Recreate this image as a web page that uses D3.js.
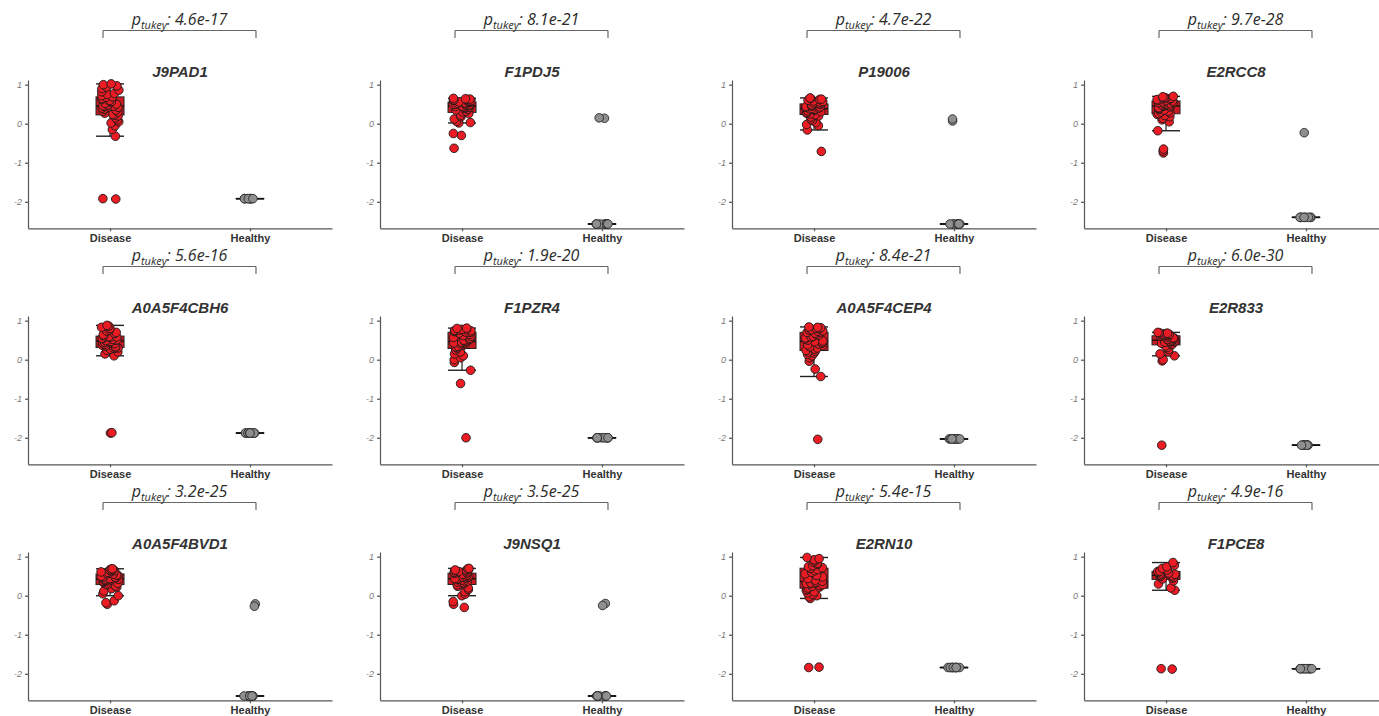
<!doctype html>
<html>
  <head>
    <script src="https://cdnjs.cloudflare.com/ajax/libs/d3/7.8.5/d3.min.js"></script>
    <style>
      body { margin: 0; background: #fff; }
      text.title { font: italic bold 15px "Liberation Sans", Arial, sans-serif; fill: #333; }
      text.pval { font: italic 16px "Open Sans", sans-serif; fill: #2b2b2b; }
      .yaxis text { font: italic 9px "Liberation Sans", Arial, sans-serif; fill: #777; }
      .xaxis text { font: bold 11px "Liberation Sans", Arial, sans-serif; fill: #333; }
      .domain, .tick line { stroke: #555; stroke-width: 1.2; }
      line.bracket { stroke: #666; stroke-width: 1.2; }
    </style>
  </head>
  <body>
    <svg id="chart" width="1379" height="716"></svg>
    <script>
      // one panel per protein
      const proteins = ["J9PAD1", "F1PDJ5", "P19006", "E2RCC8",
                        "A0A5F4CBH6", "F1PZR4", "A0A5F4CEP4", "E2R833",
                        "A0A5F4BVD1", "J9NSQ1", "E2RN10", "F1PCE8"];
      const pValues = ["4.6e-17", "8.1e-21", "4.7e-22", "9.7e-28",
                       "5.6e-16", "1.9e-20", "8.4e-21", "6.0e-30",
                       "3.2e-25", "3.5e-25", "5.4e-15", "4.9e-16"];
      const groups = ["Disease", "Healthy"];
      const yTicks = [1, 0, -1, -2];

      const diseaseValues = [
        [-1.93, -1.92, -0.32, -0.15, -0.05, 0.02, 0.05, 0.1, 0.15, 0.2, 0.22, 0.24, 0.27, 0.3, 0.32, 0.35, 0.37, 0.4, 0.42, 0.44,
         0.45, 0.46, 0.48, 0.5, 0.52, 0.55, 0.57, 0.6, 0.62, 0.65, 0.68, 0.69, 0.72, 0.75, 0.78, 0.82, 0.86, 0.9, 0.94, 0.97, 1.0, 1.02],
        [-0.63, -0.3, -0.25, 0.02, 0.03, 0.06, 0.12, 0.18, 0.22, 0.26, 0.3, 0.32, 0.35, 0.37, 0.39, 0.41, 0.42, 0.43, 0.44,
         0.45, 0.46, 0.47, 0.48, 0.49, 0.5, 0.51, 0.52, 0.53, 0.54, 0.55, 0.56, 0.57, 0.58, 0.59, 0.6, 0.61, 0.62, 0.63, 0.64, 0.65],
        [-0.71, -0.16, -0.05, -0.02, 0.03, 0.08, 0.12, 0.17, 0.2, 0.23, 0.25, 0.27, 0.29, 0.31, 0.33, 0.35, 0.36, 0.37,
         0.38, 0.39, 0.4, 0.42, 0.43, 0.44, 0.45, 0.46, 0.48, 0.5, 0.51, 0.53, 0.55, 0.57, 0.58, 0.6, 0.62, 0.63, 0.65, 0.66],
        [-0.75, -0.7, -0.65, -0.18, 0.05, 0.1, 0.14, 0.18, 0.21, 0.24, 0.26, 0.28, 0.3, 0.32, 0.35, 0.37, 0.39, 0.41, 0.43,
         0.45, 0.46, 0.47, 0.48, 0.5, 0.51, 0.52, 0.54, 0.55, 0.56, 0.58, 0.59, 0.6, 0.62, 0.63, 0.64, 0.65, 0.66, 0.67, 0.69, 0.7],
        [-1.88, -1.87, 0.1, 0.15, 0.2, 0.24, 0.27, 0.29, 0.3, 0.31, 0.33, 0.35, 0.37, 0.39, 0.41, 0.43, 0.45, 0.46,
         0.47, 0.49, 0.5, 0.51, 0.52, 0.54, 0.55, 0.57, 0.58, 0.59, 0.61, 0.64, 0.67, 0.7, 0.73, 0.76, 0.8, 0.83, 0.86, 0.88],
        [-2.0, -0.61, -0.27, -0.07, 0.0, 0.05, 0.1, 0.15, 0.2, 0.25, 0.3, 0.32, 0.34, 0.36, 0.38, 0.4, 0.42, 0.43, 0.44,
         0.46, 0.48, 0.5, 0.52, 0.55, 0.57, 0.6, 0.62, 0.65, 0.68, 0.7, 0.71, 0.72, 0.73, 0.74, 0.75, 0.76, 0.77, 0.78, 0.8, 0.81],
        [-2.04, -0.43, -0.24, -0.04, 0.05, 0.1, 0.14, 0.17, 0.2, 0.22, 0.24, 0.27, 0.3, 0.33, 0.36, 0.38, 0.4, 0.42, 0.44,
         0.46, 0.48, 0.5, 0.53, 0.56, 0.58, 0.6, 0.63, 0.65, 0.68, 0.7, 0.71, 0.73, 0.74, 0.76, 0.77, 0.79, 0.8, 0.82, 0.83, 0.84],
        [-2.19, -0.03, 0.0, 0.1, 0.15, 0.2, 0.26, 0.31, 0.35, 0.39, 0.4, 0.42, 0.44, 0.45, 0.46, 0.47, 0.48,
         0.49, 0.51, 0.52, 0.53, 0.54, 0.55, 0.56, 0.58, 0.6, 0.61, 0.62, 0.63, 0.64, 0.65, 0.66, 0.67, 0.68, 0.69, 0.7],
        [-0.22, -0.18, -0.13, 0.0, 0.05, 0.12, 0.18, 0.22, 0.25, 0.28, 0.3, 0.32, 0.34, 0.36, 0.37, 0.39, 0.4, 0.41,
         0.42, 0.43, 0.44, 0.46, 0.47, 0.48, 0.5, 0.52, 0.53, 0.55, 0.56, 0.58, 0.6, 0.61, 0.63, 0.64, 0.66, 0.67, 0.68, 0.69],
        [-0.3, -0.22, -0.15, 0.0, 0.04, 0.1, 0.16, 0.2, 0.24, 0.28, 0.31, 0.33, 0.35, 0.37, 0.38, 0.4, 0.41, 0.42,
         0.43, 0.44, 0.45, 0.47, 0.48, 0.5, 0.51, 0.53, 0.55, 0.57, 0.58, 0.6, 0.61, 0.62, 0.64, 0.65, 0.66, 0.68, 0.69, 0.7],
        [-1.84, -1.83, -0.07, -0.03, 0.0, 0.03, 0.07, 0.1, 0.14, 0.17, 0.2, 0.22, 0.24, 0.26, 0.28, 0.3, 0.31, 0.32, 0.33,
         0.35, 0.37, 0.4, 0.44, 0.48, 0.52, 0.56, 0.6, 0.64, 0.67, 0.7, 0.72, 0.74, 0.77, 0.8, 0.83, 0.86, 0.89, 0.92, 0.95, 0.98],
        [-1.88, -1.87, 0.14, 0.2, 0.3, 0.38, 0.43, 0.45, 0.47, 0.49, 0.5, 0.51,
         0.53, 0.55, 0.56, 0.58, 0.6, 0.62, 0.63, 0.66, 0.7, 0.74, 0.78, 0.85]
      ];

      const healthyValues = [
        [-1.92, -1.92, -1.92, -1.92, -1.92, -1.92, -1.92, -1.92, -1.92, -1.92],
        [0.14, 0.15, -2.57, -2.57, -2.57, -2.57, -2.57, -2.57, -2.57, -2.57, -2.57],
        [0.07, 0.12, -2.57, -2.57, -2.57, -2.57, -2.57, -2.57, -2.57, -2.57, -2.57],
        [-0.23, -2.4, -2.4, -2.4, -2.4, -2.4, -2.4, -2.4, -2.4, -2.4],
        [-1.88, -1.88, -1.88, -1.88, -1.88, -1.88, -1.88, -1.88, -1.88, -1.88],
        [-2.0, -2.0, -2.0, -2.0, -2.0, -2.0, -2.0, -2.0, -2.0, -2.0],
        [-2.03, -2.03, -2.03, -2.03, -2.03, -2.03, -2.03, -2.03, -2.03, -2.03],
        [-2.19, -2.19, -2.19, -2.19, -2.19, -2.19, -2.19, -2.19, -2.19, -2.19],
        [-0.21, -0.27, -2.57, -2.57, -2.57, -2.57, -2.57, -2.57, -2.57, -2.57, -2.57],
        [-0.2, -0.25, -2.57, -2.57, -2.57, -2.57, -2.57, -2.57, -2.57, -2.57, -2.57],
        [-1.84, -1.84, -1.84, -1.84, -1.84, -1.84, -1.84, -1.84, -1.84, -1.84],
        [-1.87, -1.87, -1.87, -1.87, -1.87, -1.87, -1.87, -1.87, -1.87, -1.87]
      ];

      const svg = d3.select('#chart');
      const colStep = 352, rowStep = 236;
      const boxHalf = 14;

      const yScale = d3.scaleLinear().domain([-2.68, 1.12]).range([228.3, 80]);
      const xScale = d3.scalePoint().domain(groups).range([28, 332]).padding(0.586);

      function boxStats(vals) {
        const s = vals.slice().sort(d3.ascending);
        const q1 = d3.quantile(s, 0.25), med = d3.quantile(s, 0.5), q3 = d3.quantile(s, 0.75);
        const iqr = q3 - q1;
        const lo = d3.min(s.filter(v => v >= q1 - 1.5 * iqr));
        const hi = d3.max(s.filter(v => v <= q3 + 1.5 * iqr));
        return { q1, med, q3, lo, hi };
      }

      // fixed hash spread so the dots don't stack on each other (same every run)
      function spread(k, w) {
        const h = Math.sin(k * 127.1 + 311.7) * 43758.5453;
        return ((h - Math.floor(h)) * 2 - 1) * w;
      }

      proteins.forEach((name, i) => {
        const g = svg.append('g')
          .attr('transform', `translate(${(i % 4) * colStep}, ${Math.floor(i / 4) * rowStep})`);

        // p-value bracket
        const bx1 = xScale('Disease') - 7, bx2 = xScale('Healthy') + 6;
        g.append('line').attr('class', 'bracket').attr('x1', bx1).attr('x2', bx2).attr('y1', 30.5).attr('y2', 30.5);
        g.append('line').attr('class', 'bracket').attr('x1', bx1).attr('x2', bx1).attr('y1', 30.5).attr('y2', 38);
        g.append('line').attr('class', 'bracket').attr('x1', bx2).attr('x2', bx2).attr('y1', 30.5).attr('y2', 38);

        const pt = g.append('text').attr('class', 'pval')
          .attr('x', (bx1 + bx2) / 2).attr('y', 25).attr('text-anchor', 'middle');
        pt.append('tspan').text('p');
        pt.append('tspan').attr('dy', 4).style('font-size', '11px').text('tukey');
        pt.append('tspan').attr('dy', -4).text(': ' + pValues[i]);

        g.append('text').attr('class', 'title')
          .attr('x', 180).attr('y', 77).attr('text-anchor', 'middle').text(name);

        g.append('g').attr('class', 'yaxis')
          .attr('transform', 'translate(28,0)')
          .call(d3.axisLeft(yScale).tickValues(yTicks).tickSize(3).tickSizeOuter(0).tickPadding(3).tickFormat(d => String(d)));

        g.append('g').attr('class', 'xaxis')
          .attr('transform', `translate(0,${yScale.range()[0]})`)
          .call(d3.axisBottom(xScale).tickSize(3).tickSizeOuter(0).tickPadding(3));

        const sets = [
          { grp: 'Disease', vals: diseaseValues[i], fill: '#ec1c24', stroke: '#1a1a1a', w: 9 },
          { grp: 'Healthy', vals: healthyValues[i], fill: '#8f8f8f', stroke: '#2b2b2b', w: 6 }
        ];

        sets.forEach((s, si) => {
          const cx = xScale(s.grp);
          const b = boxStats(s.vals);
          const bg = g.append('g');

          bg.append('line').attr('x1', cx).attr('x2', cx)
            .attr('y1', yScale(b.hi)).attr('y2', yScale(b.lo))
            .attr('stroke', '#222').attr('stroke-width', 1.2);
          [b.hi, b.lo].forEach(v => {
            bg.append('line').attr('x1', cx - boxHalf).attr('x2', cx + boxHalf)
              .attr('y1', yScale(v)).attr('y2', yScale(v))
              .attr('stroke', '#222').attr('stroke-width', 1.4);
          });
          bg.append('rect')
            .attr('x', cx - boxHalf).attr('width', boxHalf * 2)
            .attr('y', yScale(b.q3)).attr('height', Math.max(0.01, yScale(b.q1) - yScale(b.q3)))
            .attr('fill', '#cc1a22').attr('stroke', '#222').attr('stroke-width', 1);
          bg.append('line').attr('x1', cx - boxHalf).attr('x2', cx + boxHalf)
            .attr('y1', yScale(b.med)).attr('y2', yScale(b.med))
            .attr('stroke', '#111').attr('stroke-width', 1.4);

          g.append('g').selectAll('circle')
            .data(s.vals)
            .enter()
            .append('circle')
            .attr('cx', (d, k) => cx + spread(k + i * 50 + si * 25, s.w))
            .attr('cy', d => yScale(d))
            .attr('r', 4.3)
            .attr('fill', s.fill)
            .attr('stroke', s.stroke)
            .attr('stroke-width', 0.9);
        });
      });
    </script>
  </body>
</html>
